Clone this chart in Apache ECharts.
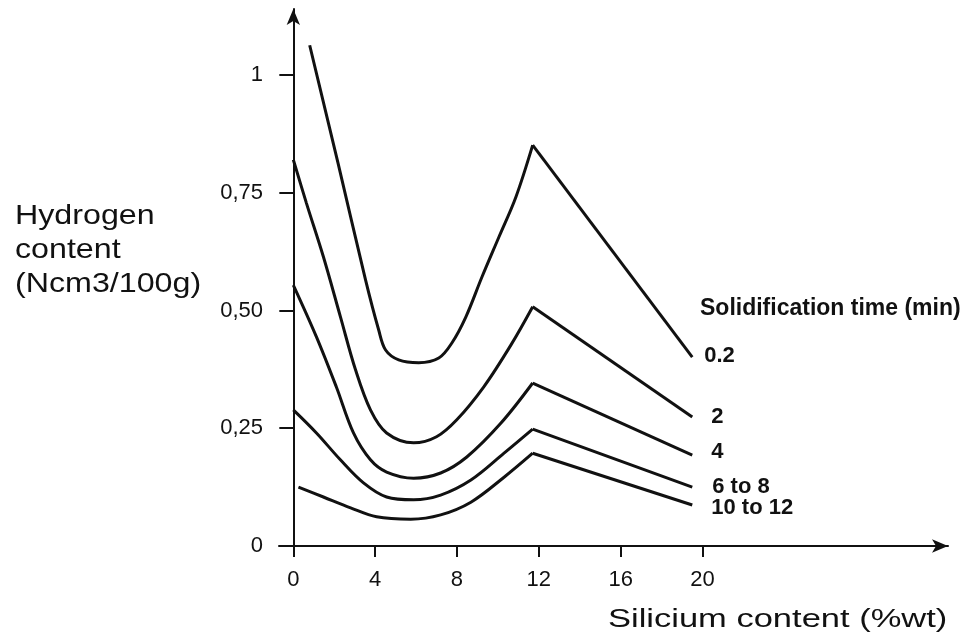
<!DOCTYPE html>
<html>
<head>
<meta charset="utf-8">
<script src="https://cdn.jsdelivr.net/npm/echarts@6/dist/echarts.min.js"></script>
<style>
  html, body { margin: 0; padding: 0; background: #fff; }
  #chart { width: 961px; height: 638px; }
</style>
</head>
<body>
<div id="chart"></div>
<script>
// silicium content (%wt) and hydrogen content (Ncm3/100g)
// each curve ends with its peak near 12 % and its end point near 20 %
const si_02 = [0.8, 2.2, 3.53, 4.17, 4.51, 5.15, 6.13, 7.11, 7.75, 8.43, 9.22, 10.05, 10.88, 11.7, 19.5];
const h_02  = [1.063, 0.81, 0.565, 0.459, 0.416, 0.395, 0.389, 0.399, 0.431, 0.486, 0.571, 0.656, 0.741, 0.851, 0.401];

const si_2 = [0, 0.64, 1.47, 2.3, 3.04, 3.77, 4.56, 5.88, 7.0, 7.99, 9.31, 10.64, 11.7, 19.5];
const h_2  = [0.82, 0.728, 0.614, 0.487, 0.374, 0.289, 0.24, 0.219, 0.232, 0.268, 0.338, 0.427, 0.508, 0.274];

const si_4 = [0, 1.13, 2.1, 2.94, 3.77, 4.56, 5.88, 7.2, 8.48, 10.15, 11.7, 19.5];
const h_4  = [0.554, 0.444, 0.338, 0.24, 0.183, 0.157, 0.144, 0.155, 0.189, 0.261, 0.346, 0.193];

const si_6 = [0, 1.13, 2.3, 3.43, 4.56, 5.88, 7.2, 8.68, 10.3, 11.7, 19.5];
const h_6  = [0.289, 0.24, 0.183, 0.134, 0.104, 0.098, 0.108, 0.14, 0.197, 0.248, 0.125];

const si_10 = [0.25, 1.47, 2.8, 4.07, 5.74, 7.2, 8.68, 10.3, 11.7, 19.5];
const h_10  = [0.125, 0.104, 0.081, 0.062, 0.057, 0.066, 0.093, 0.146, 0.197, 0.087];

const curveNames = ['0.2', '2', '4', '6 to 8', '10 to 12'];
const xTicks = [0, 4, 8, 12, 16, 20];
const yTicks = [0, 0.25, 0.5, 0.75, 1];
const yTickLabels = ['0', '0,25', '0,50', '0,75', '1'];

const curves = [[si_02, h_02], [si_2, h_2], [si_4, h_4], [si_6, h_6], [si_10, h_10]];
const labelOffsets = [[12, -1], [19, 0], [19, -3], [20, 0], [19, 3]];

const lineStyle = { color: '#111', width: 3 };
let series = [];
curves.forEach(function (c, i) {
  let pts = c[0].map(function (x, k) { return [x, c[1][k]]; });
  let n = pts.length;
  // smooth part up to the peak, straight part after it so the peak stays sharp
  series.push({
    type: 'line', name: curveNames[i] + ' a', data: pts.slice(0, n - 1),
    smooth: 0.35, showSymbol: false, lineStyle: lineStyle, silent: true
  });
  series.push({
    type: 'line', name: curveNames[i], data: pts.slice(n - 2),
    showSymbol: false, lineStyle: lineStyle, silent: true,
    endLabel: {
      show: true, distance: 0, offset: labelOffsets[i],
      formatter: curveNames[i],
      fontFamily: 'Liberation Sans', fontWeight: 'bold', fontSize: 22, color: '#111'
    }
  });
});

let chart = echarts.init(document.getElementById('chart'));
chart.setOption({
  animation: false,
  grid: { left: 279, right: 13, top: 9, bottom: 92 },
  xAxis: {
    type: 'value', min: -0.7, max: 32,
    axisLine: { lineStyle: { color: '#111', width: 2 }, symbol: ['none', 'arrow'], symbolSize: [10, 16] },
    axisTick: { customValues: xTicks, length: 11, lineStyle: { color: '#111', width: 2 } },
    axisLabel: {
      customValues: xTicks, margin: 23,
      fontFamily: 'Liberation Sans', fontSize: 22, color: '#111'
    },
    splitLine: { show: false }
  },
  yAxis: {
    type: 'value', min: 0, max: 1.14,
    axisLine: { show: true, onZero: true, lineStyle: { color: '#111', width: 2 }, symbol: ['none', 'arrow'], symbolSize: [10, 16] },
    axisTick: { show: true, customValues: yTicks, length: 14, lineStyle: { color: '#111', width: 2 } },
    axisLabel: {
      customValues: yTicks, margin: 16,
      fontFamily: 'Liberation Sans', fontSize: 22, color: '#111',
      formatter: function (v) { return yTickLabels[yTicks.indexOf(v)]; }
    },
    splitLine: { show: false }
  },
  graphic: [
    {
      type: 'text', left: 15, top: 199, scaleX: 1.15, originX: 0,
      style: {
        text: 'Hydrogen\ncontent\n(Ncm3/100g)', lineHeight: 34,
        font: '28px "Liberation Sans"', fill: '#111'
      }
    },
    {
      type: 'text', left: 608, top: 608, scaleX: 1.38, originX: 0,
      style: { text: 'Silicium content (%wt)', font: '25px "Liberation Sans"', fill: '#111' }
    },
    {
      type: 'text', left: 700, top: 297,
      style: { text: 'Solidification time (min)', font: 'bold 23px "Liberation Sans"', fill: '#111' }
    }
  ],
  series: series
});
</script>
</body>
</html>
